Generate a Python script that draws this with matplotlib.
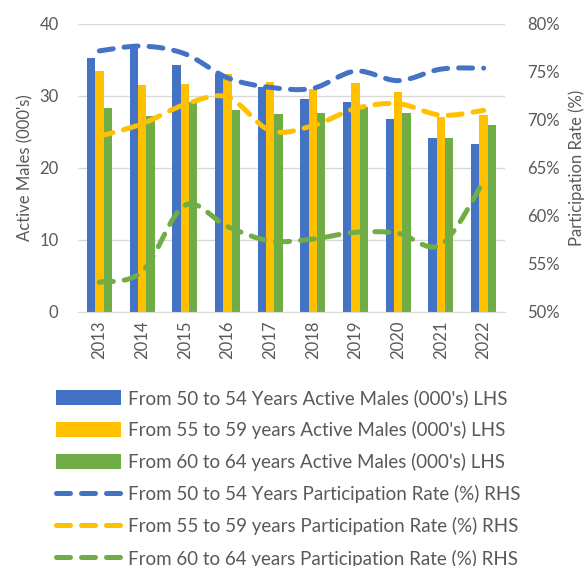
import numpy as np
import matplotlib
matplotlib.use("Agg")
import matplotlib.pyplot as plt
from matplotlib.path import Path
from matplotlib.patches import PathPatch
from matplotlib.lines import Line2D
from matplotlib.patches import Patch
from matplotlib.ticker import FuncFormatter

plt.rcParams['font.family'] = ['Lato', 'DejaVu Sans']

years = ["2013", "2014", "2015", "2016", "2017", "2018", "2019", "2020", "2021", "2022"]
active_50_54 = [35.3, 36.9, 34.3, 33.1, 31.2, 29.6, 29.2, 26.8, 24.1, 23.3]
active_55_59 = [33.5, 31.5, 31.7, 33.0, 32.0, 31.0, 31.8, 30.6, 27.1, 27.4]
active_60_64 = [28.4, 27.2, 29.2, 28.0, 27.5, 27.7, 28.5, 27.6, 24.1, 26.0]
rate_50_54 = [77.2, 77.7, 76.9, 74.4, 73.4, 73.3, 75.1, 74.1, 75.3, 75.4]
rate_55_59 = [68.3, 69.6, 71.6, 72.4, 68.9, 69.4, 71.2, 71.7, 70.5, 71.0]
rate_60_64 = [53.1, 54.2, 61.1, 58.9, 57.4, 57.6, 58.3, 58.2, 57.0, 63.6]

bar_labels = ["From 50 to 54 Years Active Males (000's) LHS",
              "From 55 to 59 years Active Males (000's) LHS",
              "From 60 to 64 years Active Males (000's) LHS"]
line_labels = ["From 50 to 54 Years Participation Rate (%) RHS",
               "From 55 to 59 years Participation Rate (%) RHS",
               "From 60 to 64 years Participation Rate (%) RHS"]

colors = ["#4472C4", "#FFC000", "#70AD47"]
text_color = "#595959"
grid_color = "#D9D9D9"

fig = plt.figure(figsize=(5.85, 5.66), dpi=100)
ax = fig.add_axes([78/585, 1-312/566, (505-78)/585, (312-24)/566])
ax2 = ax.twinx()

x = np.arange(len(years))
bw = 0.195
for i, vals in enumerate([active_50_54, active_55_59, active_60_64]):
    ax.bar(x + (i-1)*bw, vals, width=bw, color=colors[i], zorder=2)

ax.set_xlim(-0.5, len(years)-0.5)
ax.set_ylim(0, 40)
ax.set_yticks([0, 10, 20, 30, 40])
ax.grid(axis='y', color=grid_color, linewidth=1.0, zorder=0)
ax.set_axisbelow(True)
for s in ['top', 'left', 'right']:
    ax.spines[s].set_visible(False)
ax.spines['bottom'].set_color(grid_color)
ax.tick_params(axis='both', length=0, colors=text_color, labelsize=12)
ax.set_xticks(x)
ax.set_xticklabels(years, rotation=90)
ax.tick_params(axis='x', pad=6)
ax.tick_params(axis='y', pad=14)
ax.set_ylabel("Active Males (000's)", color=text_color, fontsize=12, labelpad=4)

ax2.set_ylim(50, 80)
ax2.set_yticks([50, 55, 60, 65, 70, 75, 80])
ax2.yaxis.set_major_formatter(FuncFormatter(lambda v, p: f"{v:.0f}%"))
ax2.tick_params(axis='y', length=0, colors=text_color, labelsize=12, pad=16)
for s in ['top', 'left', 'right', 'bottom']:
    ax2.spines[s].set_visible(False)
ax2.set_ylabel("Participation Rate (%)", color=text_color, fontsize=12, labelpad=6)

dash = (0, (2.8, 2.2))
lw = 3.6

def smooth_path(xs, ys):
    pts = np.column_stack([xs, ys]).astype(float)
    n = len(pts)
    verts = [pts[0]]
    codes = [Path.MOVETO]
    for k in range(n-1):
        p0 = pts[k-1] if k > 0 else pts[k]
        p1 = pts[k]
        p2 = pts[k+1]
        p3 = pts[k+2] if k+2 < n else pts[k+1]
        c1 = p1 + (p2 - p0) / 6.0
        c2 = p2 - (p3 - p1) / 6.0
        verts += [c1, c2, p2]
        codes += [Path.CURVE4]*3
    return Path(verts, codes)

for i, vals in enumerate([rate_50_54, rate_55_59, rate_60_64]):
    patch = PathPatch(smooth_path(x, vals), facecolor='none', edgecolor=colors[i],
                      linewidth=lw, linestyle=dash, capstyle='round', zorder=3)
    ax2.add_patch(patch)

handles = [Patch(facecolor=c, edgecolor='none') for c in colors] + \
          [Line2D([0], [0], color=c, linewidth=lw, linestyle=dash, dash_capstyle='round') for c in colors]
labels = bar_labels + line_labels
leg = fig.legend(handles, labels, loc='upper left', bbox_to_anchor=(56/585, 1-389/566),
                 frameon=False, fontsize=13.5, labelcolor=text_color, handlelength=3.47,
                 handleheight=0.9, handletextpad=0.37, labelspacing=0.75, borderpad=0,
                 borderaxespad=0)

fig.savefig("out.png", dpi=100)
